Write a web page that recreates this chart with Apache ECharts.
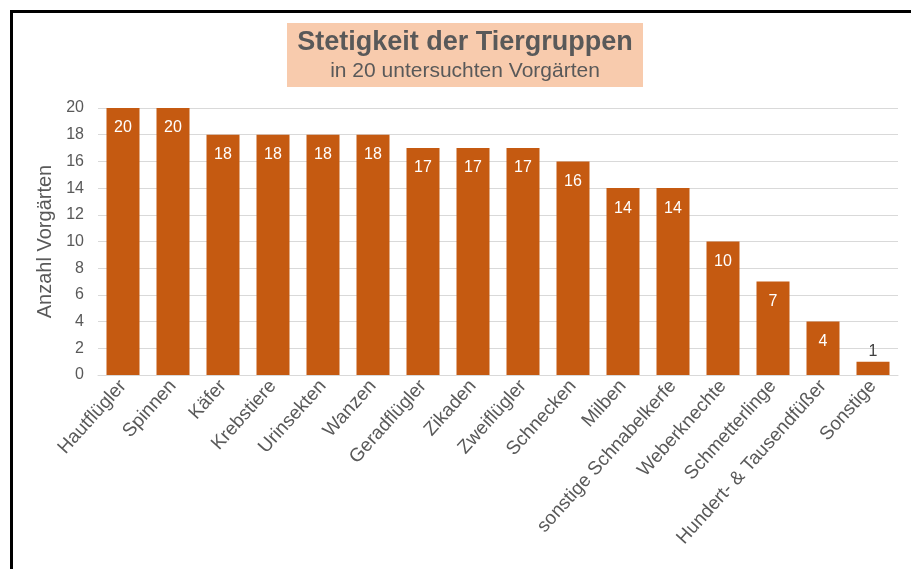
<!DOCTYPE html>
<html>
<head>
<meta charset="utf-8">
<script src="https://cdn.jsdelivr.net/npm/echarts@6/dist/echarts.min.js"></script>
<style>html,body{margin:0;padding:0;background:#fff}#c{width:911px;height:569px}</style>
</head>
<body>
<div id="c"></div>
<script>
const categories = ["Hautflügler","Spinnen","Käfer","Krebstiere","Urinsekten","Wanzen","Geradflügler","Zikaden","Zweiflügler","Schnecken","Milben","sonstige Schnabelkerfe","Weberknechte","Schmetterlinge","Hundert- & Tausendfüßer","Sonstige"];
const values = [20,20,18,18,18,18,17,17,17,16,14,14,10,7,4,1];
const titleText = "Stetigkeit der Tiergruppen";
const subtitleText = "in 20 untersuchten Vorgärten";
const yAxisName = "Anzahl Vorgärten";

const font = "'Liberation Sans', Arial, sans-serif";
const chart = echarts.init(document.getElementById('c'));
chart.setOption({
  animation: false,
  backgroundColor: '#fff',
  textStyle: { fontFamily: font },
  grid: { left: 98, right: 13, top: 108, bottom: 194 },
  graphic: [
    { type: 'rect', shape: { x: 11.5, y: 11.5, width: 1000, height: 1000 }, style: { fill: 'none', stroke: '#000', lineWidth: 3 } },
    { type: 'rect', shape: { x: 287, y: 23, width: 356, height: 64 }, style: { fill: '#F8CBAD' } },
    { type: 'text', style: { x: 465, y: 43, text: titleText, textAlign: 'center', textVerticalAlign: 'middle', font: "bold 27px 'Liberation Sans', Arial, sans-serif", fill: '#595959' } },
    { type: 'text', style: { x: 465, y: 71, text: subtitleText, textAlign: 'center', textVerticalAlign: 'middle', font: "21px 'Liberation Sans', Arial, sans-serif", fill: '#595959' } }
  ],
  xAxis: {
    type: 'category',
    data: categories,
    axisLine: { lineStyle: { color: '#D9D9D9' } },
    axisTick: { show: false },
    axisLabel: { interval: 0, rotate: 48, color: '#595959', fontSize: 19, margin: 8, fontFamily: font }
  },
  yAxis: {
    type: 'value',
    min: 0, max: 20, interval: 2,
    name: yAxisName,
    nameLocation: 'middle',
    nameGap: 40,
    nameTextStyle: { color: '#595959', fontSize: 20, fontFamily: font },
    axisLine: { show: false },
    axisTick: { show: false },
    axisLabel: { color: '#595959', fontSize: 16, margin: 14, fontFamily: font },
    splitLine: { lineStyle: { color: '#D9D9D9' } }
  },
  series: [{
    type: 'bar',
    data: values.map(v => v > 2 ? { value: v } : { value: v, label: { position: 'top', color: '#404040', distance: 2 } }),
    barWidth: '66%',
    itemStyle: { color: '#C55A11' },
    label: { show: true, position: 'insideTop', distance: 12, color: '#fff', fontSize: 16, fontFamily: font }
  }]
});
</script>
</body>
</html>
